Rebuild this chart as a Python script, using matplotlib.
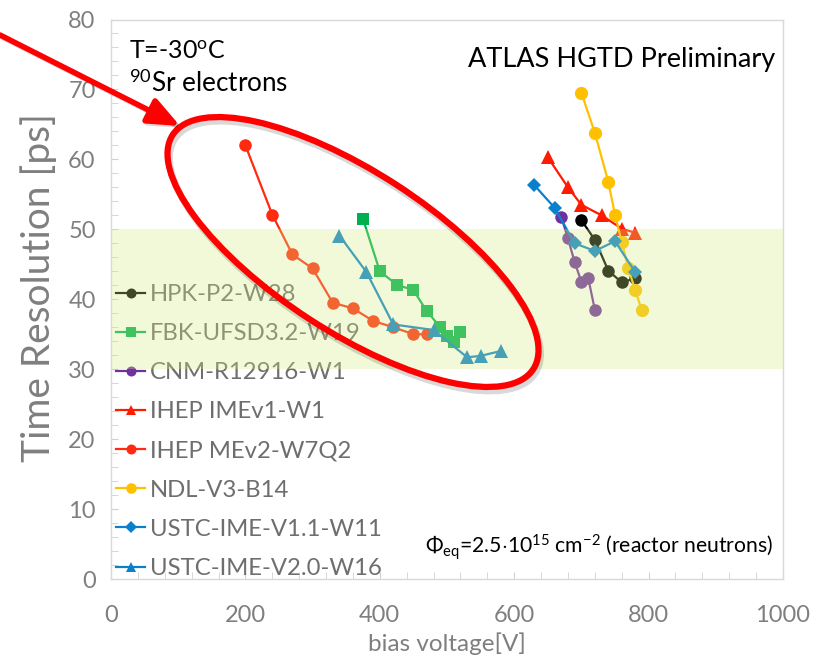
import matplotlib
matplotlib.use("Agg")
import matplotlib.pyplot as plt
import matplotlib.transforms as mtransforms
from matplotlib.patches import Ellipse, FancyArrowPatch
from matplotlib.ticker import MultipleLocator

plt.rcParams['font.family'] = ['Lato', 'DejaVu Sans']
plt.rcParams['mathtext.fontset'] = 'custom'
plt.rcParams['mathtext.rm'] = 'Lato'
plt.rcParams['mathtext.it'] = 'Lato:italic'

# Time resolution vs bias voltage, irradiated sensors
hpk_v = [700, 720, 740, 760, 780]
hpk_t = [51.3, 48.5, 44.1, 42.4, 43.0]
fbk_v = [375, 400, 425, 450, 470, 490, 500, 510, 520]
fbk_t = [51.5, 44.0, 42.1, 41.3, 38.3, 36.0, 34.7, 33.9, 35.3]
cnm_v = [670, 680, 690, 700, 710, 720]
cnm_t = [51.8, 48.7, 45.3, 42.5, 43.1, 38.5]
imev1_v = [650, 680, 700, 730, 760, 780]
imev1_t = [60.3, 56.0, 53.5, 52.0, 50.1, 49.5]
mev2_v = [200, 240, 270, 300, 330, 360, 390, 420, 450, 470]
mev2_t = [62.0, 52.1, 46.4, 44.4, 39.5, 38.7, 36.9, 36.0, 35.0, 35.0]
ndl_v = [700, 720, 740, 750, 760, 770, 780, 790]
ndl_t = [69.5, 63.8, 56.8, 52.1, 48.2, 44.4, 41.3, 38.4]
w11_v = [630, 660, 690, 720, 750, 780]
w11_t = [56.3, 53.1, 48.0, 46.9, 48.3, 43.9]
w16_v = [340, 380, 420, 480, 530, 550, 580]
w16_t = [49.1, 43.9, 36.4, 35.6, 31.7, 31.9, 32.6]

series = [
    ("HPK-P2-W28", hpk_v, hpk_t, "#000000", "o", 9),
    ("FBK-UFSD3.2-W19", fbk_v, fbk_t, "#00b050", "s", 8.5),
    ("CNM-R12916-W1", cnm_v, cnm_t, "#7030a0", "o", 9),
    ("IHEP IMEv1-W1", imev1_v, imev1_t, "#ff1a00", "^", 9.5),
    ("IHEP MEv2-W7Q2", mev2_v, mev2_t, "#ff2a10", "o", 9),
    ("NDL-V3-B14", ndl_v, ndl_t, "#ffc000", "o", 9.5),
    ("USTC-IME-V1.1-W11", w11_v, w11_t, "#0a80cc", "D", 7.5),
    ("USTC-IME-V2.0-W16", w16_v, w16_t, "#0a80cc", "^", 9.5),
]

W, H = 816, 658
fig = plt.figure(figsize=(W / 100, H / 100), dpi=100)
x0, x1, y0, y1 = 111, 783, 19.5, 579
ax = fig.add_axes([x0 / W, 1 - y1 / H, (x1 - x0) / W, (y1 - y0) / H])

for label, v, t, c, m, ms in series:
    ax.plot(v, t, color=c, marker=m, markersize=ms, linewidth=1.6,
            markeredgewidth=0, label=label, zorder=3)

ax.set_xlim(0, 1000)
ax.set_ylim(0, 80)
ax.xaxis.set_major_locator(MultipleLocator(200))
ax.xaxis.set_minor_locator(MultipleLocator(40))
ax.yaxis.set_major_locator(MultipleLocator(10))
ax.yaxis.set_minor_locator(MultipleLocator(2))

grey = "#7f7f7f"
for s in ax.spines.values():
    s.set_color("#d9d9d9")
    s.set_linewidth(1.0)
ax.tick_params(axis="both", which="both", direction="in", color="#d0d0d0",
               labelcolor=grey, labelsize=17)
ax.tick_params(axis="both", which="major", length=5)
ax.tick_params(axis="both", which="minor", length=5)
ax.tick_params(axis="x", which="major", pad=19)
ax.tick_params(axis="y", which="major", pad=11)

ax.set_xlabel("bias voltage[V]", color=grey, fontsize=17.5, labelpad=4)
ax.set_ylabel("Time Resolution [ps]", color=grey, fontsize=28)
ax.yaxis.set_label_coords(-0.08, 0.521)

leg = ax.legend(loc="lower left", bbox_to_anchor=(0.008, 0.0), frameon=False,
                fontsize=17.2, handlelength=1.2, handletextpad=0.2,
                labelspacing=0.76, borderpad=0.0, borderaxespad=0.0,
                markerscale=0.8)
for txt in leg.get_texts():
    txt.set_color("#6e6e6e")
leg.set_zorder(4)

# target band 30-50 ps, translucent and drawn over the data
ax.axhspan(30, 50, color="#d6ec81", alpha=0.3, linewidth=0, zorder=6)

ax.text(0.027, 0.943, r"T=-30$^{\rm o}$C", transform=ax.transAxes,
        fontsize=18, color="black", va="center")
ax.text(0.027, 0.885, r"$^{90}$Sr electrons", transform=ax.transAxes,
        fontsize=18.8, color="black", va="center")
ax.text(0.988, 0.928, "ATLAS HGTD Preliminary", transform=ax.transAxes,
        fontsize=19.5, color="black", ha="right", va="center")
ax.text(0.985, 0.057, r"$\Phi_{\rm eq}$=2.5$\cdot$10$^{15}$ cm$^{-2}$ (reactor neutrons)",
        transform=ax.transAxes, fontsize=15.2, color="black", ha="right",
        va="center")

# highlight overlay in pixel coordinates
ov = fig.add_axes([0, 0, 1, 1], zorder=10)
ov.set_xlim(0, W)
ov.set_ylim(H, 0)
ov.axis("off")
ov.patch.set_alpha(0)

ov.add_patch(Ellipse(xy=(355, 256), width=430, height=160, angle=33,
                     fill=False, edgecolor="#000000", alpha=0.15, linewidth=5))
ov.add_patch(Ellipse(xy=(353, 252), width=430, height=160, angle=33,
                     fill=False, edgecolor="#ff0000", linewidth=4.5))

arrow_style = "-|>,head_length=19,head_width=8"
shadow = ov.transData + mtransforms.ScaledTranslation(2 / 100, -2 / 100, fig.dpi_scale_trans)
ov.add_patch(FancyArrowPatch((0, 35), (180, 126), arrowstyle=arrow_style,
                             mutation_scale=1, color="#000000", alpha=0.15,
                             linewidth=4, shrinkA=0, shrinkB=0, transform=shadow))
ov.add_patch(FancyArrowPatch((0, 35), (180, 126), arrowstyle=arrow_style,
                             mutation_scale=1, color="#ff0000", linewidth=4,
                             shrinkA=0, shrinkB=0))

fig.savefig("out.png", dpi=100)
